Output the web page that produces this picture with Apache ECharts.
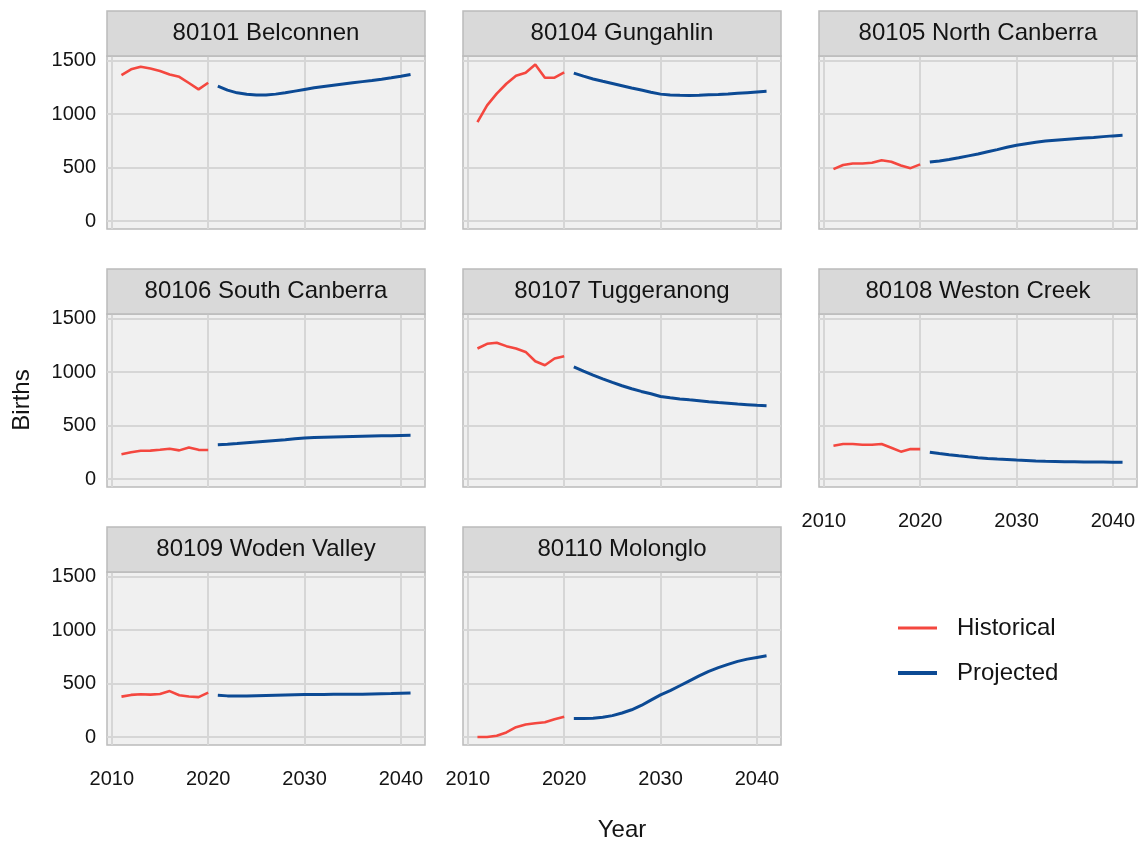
<!DOCTYPE html>
<html>
<head>
<meta charset="utf-8">
<script src="https://cdn.jsdelivr.net/npm/echarts@6/dist/echarts.min.js"></script>
<style>
  html, body { margin: 0; padding: 0; background: #ffffff; }
  #chart { width: 1144px; height: 846px; }
</style>
</head>
<body>
<div id="chart"></div>
<script>
// Years covered by recorded and projected births
const histYears = [2011, 2012, 2013, 2014, 2015, 2016, 2017, 2018, 2019, 2020];
const projYears = [2021, 2022, 2023, 2024, 2025, 2026, 2027, 2028, 2029, 2030,
                   2031, 2032, 2033, 2034, 2035, 2036, 2037, 2038, 2039, 2040, 2041];

// Axis tick labels
const xTicks = [2010, 2020, 2030, 2040];
const yTicks = [0, 500, 1000, 1500];

// Panel titles (SA3 regions)
const regionNames = [
  '80101 Belconnen', '80104 Gungahlin', '80105 North Canberra',
  '80106 South Canberra', '80107 Tuggeranong', '80108 Weston Creek',
  '80109 Woden Valley', '80110 Molonglo'
];

// Births per region: historical (2011-2020) and projected (2021-2041)
const belconnenHist = [1365, 1420, 1445, 1428, 1405, 1372, 1350, 1292, 1232, 1295];
const belconnenProj = [1262, 1225, 1200, 1186, 1180, 1180, 1188, 1200, 1216, 1232,
                       1247, 1260, 1272, 1283, 1294, 1305, 1316, 1328, 1341, 1355, 1372];

const gungahlinHist = [925, 1082, 1192, 1285, 1360, 1388, 1465, 1342, 1342, 1392];
const gungahlinProj = [1385, 1356, 1330, 1308, 1288, 1267, 1246, 1226, 1206, 1188,
                       1180, 1177, 1176, 1177, 1181, 1185, 1190, 1196, 1202, 1208, 1214];

const northCanberraHist = [486, 524, 539, 539, 546, 568, 555, 520, 495, 530];
const northCanberraProj = [552, 562, 575, 592, 610, 628, 648, 668, 690, 710,
                           724, 737, 748, 757, 764, 770, 776, 782, 790, 797, 802];

const southCanberraHist = [232, 250, 265, 266, 274, 283, 268, 295, 273, 272];
const southCanberraProj = [320, 325, 332, 340, 347, 354, 361, 368, 376, 384,
                           388, 391, 394, 396, 398, 400, 402, 404, 406, 408, 410];

const tuggeranongHist = [1222, 1266, 1276, 1244, 1222, 1190, 1103, 1065, 1128, 1150];
const tuggeranongProj = [1050, 1010, 972, 938, 905, 873, 845, 820, 798, 772,
                         760, 750, 741, 733, 724, 716, 709, 702, 696, 690, 686];

const westonCreekHist = [312, 327, 327, 321, 321, 327, 293, 256, 280, 280];
const westonCreekProj = [250, 238, 227, 217, 208, 200, 193, 187, 182, 177,
                         173, 169, 166, 164, 162, 161, 160, 159, 158, 157, 156];

const wodenValleyHist = [378, 394, 400, 397, 403, 430, 391, 379, 373, 415];
const wodenValleyProj = [390, 385, 384, 385, 387, 389, 391, 393, 395, 397,
                         398, 399, 400, 401, 400, 401, 403, 405, 407, 410, 413];

const molongloHist = [0, 0, 12, 43, 92, 117, 129, 138, 166, 190];
const molongloProj = [172, 172, 176, 184, 200, 225, 255, 295, 345, 394,
                      434, 480, 526, 572, 615, 649, 680, 708, 729, 745, 760];

const histSeries = [belconnenHist, gungahlinHist, northCanberraHist, southCanberraHist,
                    tuggeranongHist, westonCreekHist, wodenValleyHist, molongloHist];
const projSeries = [belconnenProj, gungahlinProj, northCanberraProj, southCanberraProj,
                    tuggeranongProj, westonCreekProj, wodenValleyProj, molongloProj];

// Styling and layout
const FONT = '"Liberation Sans", Arial, Helvetica, sans-serif';
const RED = '#F4473F';
const BLUE = '#0C4A94';
const TEXT = '#141414';
const colLeft = [107, 463, 819];
const rowTop = [56, 314, 572];
const panelW = 318, panelH = 173, stripH = 45;

const grids = [], xAxes = [], yAxes = [], series = [], graphics = [];

regionNames.forEach((name, i) => {
  const r = Math.floor(i / 3), c = i % 3;
  const left = colLeft[c], top = rowTop[r];

  grids.push({
    left: left, top: top, width: panelW, height: panelH,
    show: true, backgroundColor: '#F0F0F0',
    borderColor: '#BBBBBB', borderWidth: 1.5
  });

  const showXLabels = (r === 2) || (r === 1 && c === 2);
  xAxes.push({
    type: 'value', gridIndex: i, min: 2009.5, max: 2042.5,
    axisLine: { show: false },
    axisTick: { show: false, customValues: xTicks },
    axisLabel: {
      show: showXLabels, customValues: xTicks, margin: 24,
      fontSize: 20, fontFamily: FONT, color: TEXT,
      formatter: v => String(v)
    },
    splitLine: { show: true, lineStyle: { color: '#D6D6D6', width: 2 } }
  });

  yAxes.push({
    type: 'value', gridIndex: i, min: -75, max: 1545,
    axisLine: { show: false },
    axisTick: { show: false, customValues: yTicks },
    axisLabel: {
      show: c === 0, customValues: yTicks, margin: 11,
      fontSize: 20, fontFamily: FONT, color: TEXT,
      formatter: v => String(v)
    },
    splitLine: { show: true, lineStyle: { color: '#D6D6D6', width: 2 } }
  });

  series.push({
    name: 'Historical', type: 'line', xAxisIndex: i, yAxisIndex: i,
    data: histYears.map((y, k) => [y, histSeries[i][k]]),
    showSymbol: false, symbol: 'none', silent: true,
    lineStyle: { color: RED, width: 2.6 }, itemStyle: { color: RED }
  });
  series.push({
    name: 'Projected', type: 'line', xAxisIndex: i, yAxisIndex: i,
    data: projYears.map((y, k) => [y, projSeries[i][k]]),
    showSymbol: false, symbol: 'none', silent: true,
    lineStyle: { color: BLUE, width: 3 }, itemStyle: { color: BLUE }
  });

  // Facet strip above each panel
  graphics.push({
    type: 'rect', z: 10,
    shape: { x: left, y: top - stripH, width: panelW, height: stripH },
    style: { fill: '#D9D9D9', stroke: '#BBBBBB', lineWidth: 1.5 }
  });
  graphics.push({
    type: 'text', z: 11, x: left + panelW / 2, y: top - stripH / 2,
    style: {
      text: name, fontSize: 24, fontFamily: FONT, fill: TEXT,
      align: 'center', verticalAlign: 'middle'
    }
  });
});

// Axis titles
graphics.push({
  type: 'text', x: 22, y: 400, rotation: Math.PI / 2,
  style: { text: 'Births', fontSize: 24, fontFamily: FONT, fill: TEXT,
           align: 'center', verticalAlign: 'middle' }
});
graphics.push({
  type: 'text', x: 622, y: 830,
  style: { text: 'Year', fontSize: 24, fontFamily: FONT, fill: TEXT,
           align: 'center', verticalAlign: 'middle' }
});

const legendText = { fontSize: 24, fontFamily: FONT, color: TEXT, padding: [0, 0, 0, 15] };

const chart = echarts.init(document.getElementById('chart'), null, { renderer: 'canvas' });
chart.setOption({
  animation: false,
  backgroundColor: '#ffffff',
  grid: grids,
  xAxis: xAxes,
  yAxis: yAxes,
  series: series,
  legend: [
    { data: [{ name: 'Historical', icon: 'rect' }], left: 893, top: 611,
      itemWidth: 39, itemHeight: 3, selectedMode: false, textStyle: legendText },
    { data: [{ name: 'Projected', icon: 'rect' }], left: 893, top: 656,
      itemWidth: 39, itemHeight: 4, selectedMode: false, textStyle: legendText }
  ],
  graphic: graphics
});
</script>
</body>
</html>
